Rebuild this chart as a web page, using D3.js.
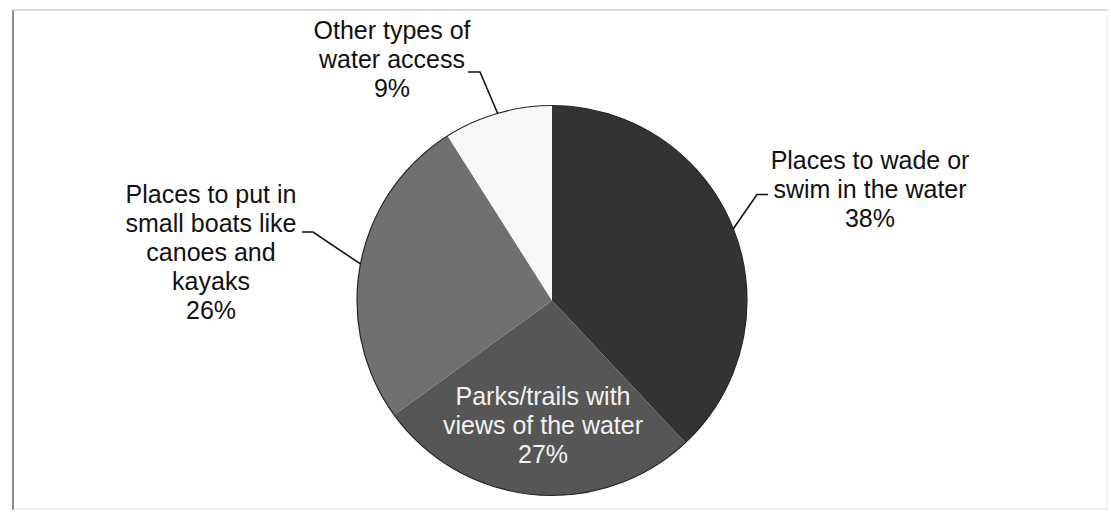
<!DOCTYPE html>
<html>
<head>
<meta charset="utf-8">
<script src="https://cdn.jsdelivr.net/npm/d3@7/dist/d3.min.js"></script>
<style>
  html, body { margin: 0; padding: 0; background: #fff; }
  svg { display: block; }
  text { font-family: "Liberation Sans", Arial, sans-serif; }
</style>
</head>
<body>
<svg id="chart" width="1111" height="512"></svg>
<script>
// Preferred types of water access (share of responses)
const categories = [
  "Places to wade or swim in the water",
  "Parks/trails with views of the water",
  "Places to put in small boats like canoes and kayaks",
  "Other types of water access"
];
const values = [38, 27, 26, 9];
const labelLines = [
  ["Places to wade or", "swim in the water"],
  ["Parks/trails with", "views of the water"],
  ["Places to put in", "small boats like", "canoes and", "kayaks"],
  ["Other types of", "water access"]
];
const sliceColors = ["#333333", "#565656", "#707070", "#f7f7f7"];

const svg = d3.select("#chart");

// chart frame
svg.append("line").attr("x1", 13).attr("x2", 13).attr("y1", 10).attr("y2", 510)
  .attr("stroke", "#8a8a8a").attr("stroke-width", 2);
svg.append("line").attr("x1", 13).attr("x2", 1107).attr("y1", 10).attr("y2", 10)
  .attr("stroke", "#cfcfcf").attr("stroke-width", 1.5);
svg.append("line").attr("x1", 1107).attr("x2", 1107).attr("y1", 10).attr("y2", 510)
  .attr("stroke", "#ececec").attr("stroke-width", 1);
svg.append("line").attr("x1", 13).attr("x2", 1107).attr("y1", 509).attr("y2", 509)
  .attr("stroke", "#e2e2e2").attr("stroke-width", 1);

const cx = 552, cy = 300.5, R = 195;
const g = svg.append("g").attr("transform", `translate(${cx},${cy})`);

const data = categories.map((c, i) => ({ cat: c, value: values[i], lines: labelLines[i], color: sliceColors[i] }));
const pie = d3.pie().value(d => d.value).sort(null);
const arcs = pie(data);
const arc = d3.arc().innerRadius(0).outerRadius(R);

g.selectAll("path.slice").data(arcs).join("path")
  .attr("class", "slice")
  .attr("d", arc)
  .attr("fill", d => d.data.color);

// thin outline round the pie
g.append("circle").attr("r", R).attr("fill", "none")
  .attr("stroke", "#262626").attr("stroke-width", 1.2);

const lineH = 29;
const fs = 25;

// label placement relative to the pie centre:
// text centre x, first baseline y, and the short horizontal leader tick [from, to, y]
const labelPlace = [
  { x: 318, y: -132, tick: [216, 205, -106] },   // wade or swim
  { x: -9, y: 104, tick: null },                 // parks/trails (inside)
  { x: -341, y: -98, tick: [-250, -239, -68.5] }, // small boats
  { x: -160, y: -262, tick: [-84, -72, -228.5] }  // other
];

arcs.forEach((a, i) => {
  const p = labelPlace[i];
  const inside = p.tick === null;
  const lines = a.data.lines.concat([a.data.value + "%"]);
  const t = g.append("text")
    .attr("text-anchor", "middle")
    .attr("font-size", fs)
    .attr("fill", inside ? "#f2f2f2" : "#111");
  lines.forEach((ln, k) => {
    t.append("tspan").attr("x", p.x).attr("y", p.y + k * lineH).text(ln);
  });
  if (!inside) {
    // leader ends on the rim at the slice's mid-angle
    const mid = (a.startAngle + a.endAngle) / 2;
    const ex = Math.sin(mid) * R, ey = -Math.cos(mid) * R;
    const [x0, x1, ty] = p.tick;
    g.append("path")
      .attr("d", `M${x0},${ty}H${x1}L${ex},${ey}`)
      .attr("fill", "none").attr("stroke", "#111").attr("stroke-width", 1.6);
  }
});
</script>
</body>
</html>
